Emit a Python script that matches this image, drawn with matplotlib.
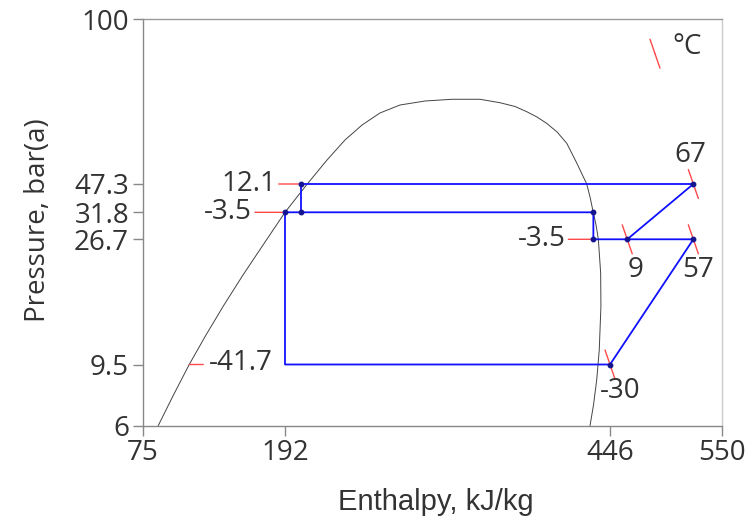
import numpy as np
import matplotlib
matplotlib.use("Agg")
import matplotlib.pyplot as plt

plt.rcParams['font.family'] = ['Open Sans', 'DejaVu Sans']

# axis ticks
h_ticks = [75, 192, 446, 550]            # kJ/kg
p_ticks = [6, 9.5, 26.7, 31.8, 47.3, 100]  # bar(a)

# saturation dome (liquid side -> top -> vapour side)
dome_h = [87.6, 100.1, 113.1, 126.9, 141.7, 157.4, 173.9, 192.0, 209.2, 224.8, 238.9,
          252.2, 266.2, 281.9, 301.4, 322.5, 344.4, 360.0, 371.8, 380.9, 388.9, 396.5,
          404.6, 412.2, 420.0, 427.8, 430.4, 432.9, 435.1, 436.9, 438.7, 438.9, 437.6,
          435.6, 433.1, 430.4]
dome_p = [6, 7.55, 9.5, 12.12, 15.52, 19.89, 25.47, 31.8, 47.1, 52.73, 57.76,
          61.81, 65.28, 67.69, 68.93, 69.47, 69.47, 68.40, 67.23, 65.67, 64.11, 62.29,
          59.90, 56.90, 52.03, 47.3, 39.42, 31.8, 29.29, 26.7, 20.21, 15.31, 10.71,
          8.45, 7.0, 6]

# cycle state points
pt_h = [204.3, 204.3, 192.0, 192.0, 446.0, 523.4, 462.0, 433.0, 433.0, 523.4]
pt_p = [47.3, 31.8, 31.8, 9.5, 9.5, 26.7, 26.7, 26.7, 31.8, 47.3]
paths = [[0, 9, 6], [7, 5, 4, 3, 2, 8, 7], [0, 1]]
dots = [0, 1, 2, 4, 5, 6, 7, 8, 9]

# temperature labels (°C)
t_labels = ['12.1', '-3.5', '-3.5', '-41.7', '67', '9', '57', '-30']
t_h = [204.3, 192.0, 433.0, 113.1, 523.4, 462.0, 523.4, 446.0]
t_p = [47.3, 31.8, 26.7, 9.5, 47.3, 26.7, 26.7, 9.5]

# tick positions on the chart (pixels from the axis origin)
h_pos = [0, 142, 467, 579]
p_pos = [0, 61, 186.2, 213.2, 241.5, 406.5]


def fwd_h(v):
    return np.interp(v, h_ticks, h_pos)


def inv_h(u):
    return np.interp(u, h_pos, h_ticks)


def fwd_p(v):
    v = np.clip(np.asarray(v, dtype=float), 1e-6, None)
    return np.interp(np.log(v), np.log(p_ticks), p_pos)


def inv_p(u):
    return np.exp(np.interp(u, p_pos, np.log(p_ticks)))


fig = plt.figure(figsize=(7.54, 5.22), dpi=100)
ax = fig.add_axes([143 / 754, 1 - 425.5 / 522, 579 / 754, 406.5 / 522])
ax.set_xscale('function', functions=(fwd_h, inv_h))
ax.set_yscale('function', functions=(fwd_p, inv_p))
ax.set_xlim(75, 550)
ax.set_ylim(6, 100)

ax.plot(dome_h, dome_p, color='#444444', lw=0.7, zorder=2)

for idx in paths:
    ax.plot([pt_h[i] for i in idx], [pt_p[i] for i in idx], color='#1010ff', lw=1.3, zorder=3)
ax.plot([pt_h[i] for i in dots], [pt_p[i] for i in dots], 'o', ms=3.2,
        color='#15158f', zorder=4)

red = '#ff4a4a'


def mark(x, y, ends, coords='data'):
    for dx, dy in ends:
        ax.annotate('', xy=(x, y), xycoords=coords, xytext=(dx, dy), textcoords='offset pixels',
                    arrowprops=dict(arrowstyle='-', color=red, lw=1.0, shrinkA=0, shrinkB=0),
                    zorder=3)


slant = [(-5, 14.5), (5, -14.5)]
# (tick ends, text offset px, ha)
t_style = [
    ([(-22, 0)], (-24, 0), 'right'),
    ([(-30, 0)], (-33, 0), 'right'),
    ([(-25, 0)], (-28, 0), 'right'),
    ([(14, 0)], (20, 2), 'left'),
    (slant, (-3, 29), 'center'),
    (slant, (8, -31), 'center'),
    (slant, (5, -31), 'center'),
    (slant, (10, -27), 'center'),
]
for lab, h, p, (ends, off, ha) in zip(t_labels, t_h, t_p, t_style):
    mark(h, p, ends)
    ax.annotate(lab, xy=(h, p), xytext=off, textcoords='offset pixels', ha=ha, va='center',
                fontsize=20, color='#333333')

# legend mark
mark(0.8843, 0.9146, slant, coords='axes fraction')
ax.text(0.9396, 0.931, '°C', transform=ax.transAxes, ha='center', va='center',
        fontsize=20, color='#333333')

ax.set_xticks(h_ticks)
ax.set_xticklabels([str(v) for v in h_ticks])
ax.set_yticks(p_ticks)
ax.set_yticklabels([f'{v:g}' for v in p_ticks])
ax.minorticks_off()
ax.tick_params(length=7, width=1, color='#888888', labelsize=20, labelcolor='#333333', pad=3)

ax.set_xlabel('Enthalpy, kJ/kg', fontsize=21, color='#333333', family='Liberation Sans')
ax.set_ylabel('Pressure, bar(a)', fontsize=20, color='#333333')
ax.xaxis.set_label_coords(0.506, -0.153)
ax.yaxis.set_label_coords(-0.157, 0.506)

for s in ['left', 'bottom']:
    ax.spines[s].set_color('#888888')
ax.spines['top'].set_color('#999999')
ax.spines['right'].set_color('#cccccc')
for s in ax.spines.values():
    s.set_linewidth(1.0)

fig.savefig('out.png', dpi=100)
